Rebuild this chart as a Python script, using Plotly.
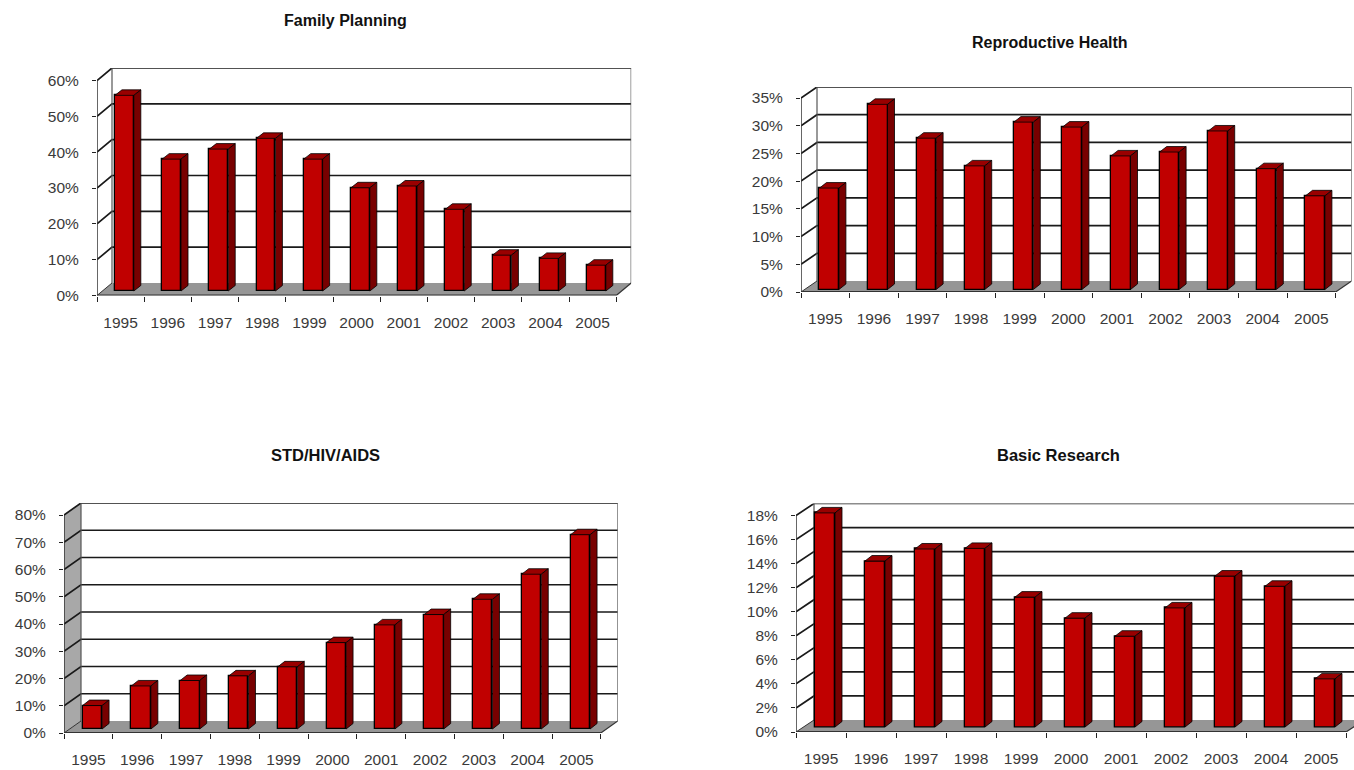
import plotly.graph_objects as go

W, H = 1354, 770
years = ["1995","1996","1997","1998","1999","2000","2001","2002","2003","2004","2005"]
family_planning = [54.6, 36.8, 39.6, 42.6, 36.8, 28.8, 29.3, 22.8, 10, 9.1, 7.2]
reproductive_health = [18.3, 33.4, 27.3, 22.3, 30.2, 29.3, 24.1, 24.8, 28.6, 21.8, 16.9]
std_hiv_aids = [8.6, 15.8, 17.8, 19.5, 22.8, 31.7, 38.2, 42, 47.6, 56.8, 71.3]
basic_research = [17.8, 13.8, 14.8, 14.85, 10.8, 9.05, 7.55, 9.9, 12.55, 11.7, 4.0]

panels = [
    dict(title="Family Planning", values=family_planning, vmax=60, step=10, x0=97, cw=47.2, y0=295.5, ym=80.5,
         dx=15, dy=12.5, tx=345, ty=21, ts=16, wall=None, lift=4.5),
    dict(title="Reproductive Health", values=reproductive_health, vmax=35, step=5, x0=801, cw=48.6, y0=292, ym=98,
         dx=16, dy=11, tx=1050, ty=42, ts=16, wall=None, lift=2.5),
    dict(title="STD/HIV/AIDS", values=std_hiv_aids, vmax=80, step=10, x0=64, cw=48.8, y0=733, ym=515,
         dx=17, dy=12, tx=325, ty=455, ts=16.5, wall="#a8a8a8", lift=4),
    dict(title="Basic Research", values=basic_research, vmax=18, step=2, x0=796, cw=50, y0=732, ym=515.5,
         dx=18, dy=12, tx=1058, ty=455, ts=16.5, wall=None, lift=5),
]

FONT = "Liberation Sans, Arial, sans-serif"
TXT = "#3a3a3a"
LINE = "#1a1a1a"
FRONT, TOP, SIDE, FLOOR = "#c00000", "#990000", "#780000", "#969696"
BAR_L, BAR_W = 0.38, 0.40   # bar front face, in category widths
BAR_DX, BAR_DY = 7, 5.5     # depth of a bar, px

fig = go.Figure()
shapes, annotations = [], []

for n, p in enumerate(panels):
    sfx = "" if n == 0 else str(n + 1)
    xa, ya = "x" + sfx, "y" + sfx
    pxv = (p["y0"] - p["ym"]) / p["vmax"]      # px per value unit
    cw = p["cw"]
    ncat = len(years)
    ddx, ddy = p["dx"] / cw, p["dy"] / pxv      # chart depth in data units
    xend = min(p["x0"] + ncat * cw + p["dx"], W)
    xhi = (xend - p["x0"]) / cw
    yhi = p["vmax"] + ddy
    ticks = list(range(0, p["vmax"] + 1, p["step"]))

    def line(pts, color=LINE, width=1.7):
        path = "M" + "L".join(f"{a},{b}" for a, b in pts)
        shapes.append(dict(type="path", path=path, xref=xa, yref=ya, layer="below",
                           line=dict(color=color, width=width)))

    def poly(pts, fill):
        path = "M" + "L".join(f"{a},{b}" for a, b in pts) + "Z"
        shapes.append(dict(type="path", path=path, xref=xa, yref=ya, layer="below",
                           fillcolor=fill, line=dict(color="rgba(0,0,0,0)", width=0)))

    # floor and walls
    if p["wall"]:
        poly([(0, 0), (ddx, ddy), (ddx, yhi), (0, p["vmax"])], p["wall"])
    poly([(0, 0), (ncat, 0), (ncat + ddx, ddy), (ddx, ddy)], FLOOR)
    # gridlines with their slanted stubs
    for v in ticks[1:]:
        line([(0, v), (ddx, v + ddy), (ncat + ddx, v + ddy)])
    line([(ddx, ddy), (ddx, yhi)], "#555555", 1.2)
    line([(ncat + ddx, ddy), (ncat + ddx, yhi)], "#555555", 1.2)
    line([(0, 0), (0, p["vmax"])], "#333333", 1.5)
    line([(0, 0), (ncat, 0)], "#333333", 2)
    line([(0, 0), (ddx, ddy)], "#333333", 1)
    line([(ncat, 0), (ncat + ddx, ddy)], "#333333", 1.2)

    # bars
    lift = p["lift"] / pxv
    bdx, bdy = BAR_DX / cw, BAR_DY / pxv
    centers = [i + BAR_L + BAR_W / 2 for i in range(ncat)]
    fig.add_trace(go.Bar(x=centers, y=p["values"], base=lift, width=BAR_W, xaxis=xa, yaxis=ya,
                         marker=dict(color=FRONT, line=dict(color="#000000", width=1.3)),
                         name=p["title"], hoverinfo="y", showlegend=False))
    tx, ty, sx, sy = [], [], [], []
    for c, v in zip(centers, p["values"]):
        l, r = c - BAR_W / 2, c + BAR_W / 2
        t = v + lift
        tx += [l, r, r + bdx, l + bdx, l, None]
        ty += [t, t, t + bdy, t + bdy, t, None]
        sx += [r, r + bdx, r + bdx, r, r, None]
        sy += [lift, lift + bdy, t + bdy, t, lift, None]
    for X, Y, col in ((tx, ty, TOP), (sx, sy, SIDE)):
        fig.add_trace(go.Scatter(x=X, y=Y, mode="lines", fill="toself", fillcolor=col,
                                 line=dict(color="#000000", width=0.8), xaxis=xa, yaxis=ya,
                                 hoverinfo="skip", showlegend=False))

    key = "xaxis" + sfx
    fig.layout[key] = dict(
        domain=[p["x0"] / W, xend / W], range=[0, xhi], anchor=ya, showgrid=False, zeroline=False, showline=False,
        automargin=False,
        tickmode="array", tickvals=[i + 0.5 for i in range(ncat)], ticktext=years,
        ticks="outside", ticklen=12.5, tickcolor="rgba(0,0,0,0)", tickwidth=1,
        tickfont=dict(family=FONT, size=15.5, color=TXT),
        minor=dict(tickmode="array", tickvals=list(range(ncat + 1)), ticks="outside",
                   ticklen=5, tickcolor="#222222", tickwidth=1, showgrid=False),
    )
    fig.layout["yaxis" + sfx] = dict(
        domain=[1 - p["y0"] / H, 1 - (p["ym"] - p["dy"]) / H], range=[0, yhi], anchor=xa,
        showgrid=False, zeroline=False, showline=False, automargin=False,
        tickmode="array", tickvals=ticks, ticktext=[f"{v}%" for v in ticks],
        ticks="outside", ticklen=4, tickcolor="#222222", tickwidth=1.2,
        ticklabelstandoff=10,
        tickfont=dict(family=FONT, size=15.5, color=TXT),
    )
    annotations.append(dict(text=f"<b>{p['title']}</b>", xref="paper", yref="paper",
                            x=p["tx"] / W, y=1 - p["ty"] / H, xanchor="center", yanchor="middle",
                            showarrow=False, font=dict(family=FONT, size=p["ts"], color="#111111")))

fig.update_layout(width=W, height=H, margin=dict(l=0, r=0, t=0, b=0), paper_bgcolor="white",
                  plot_bgcolor="rgba(0,0,0,0)", showlegend=False, shapes=shapes, annotations=annotations,
                  bargap=0)
fig.write_html("out.html", config=dict(displayModeBar=False),
               post_script="document.body.style.margin='0';document.body.style.overflow='hidden';")
